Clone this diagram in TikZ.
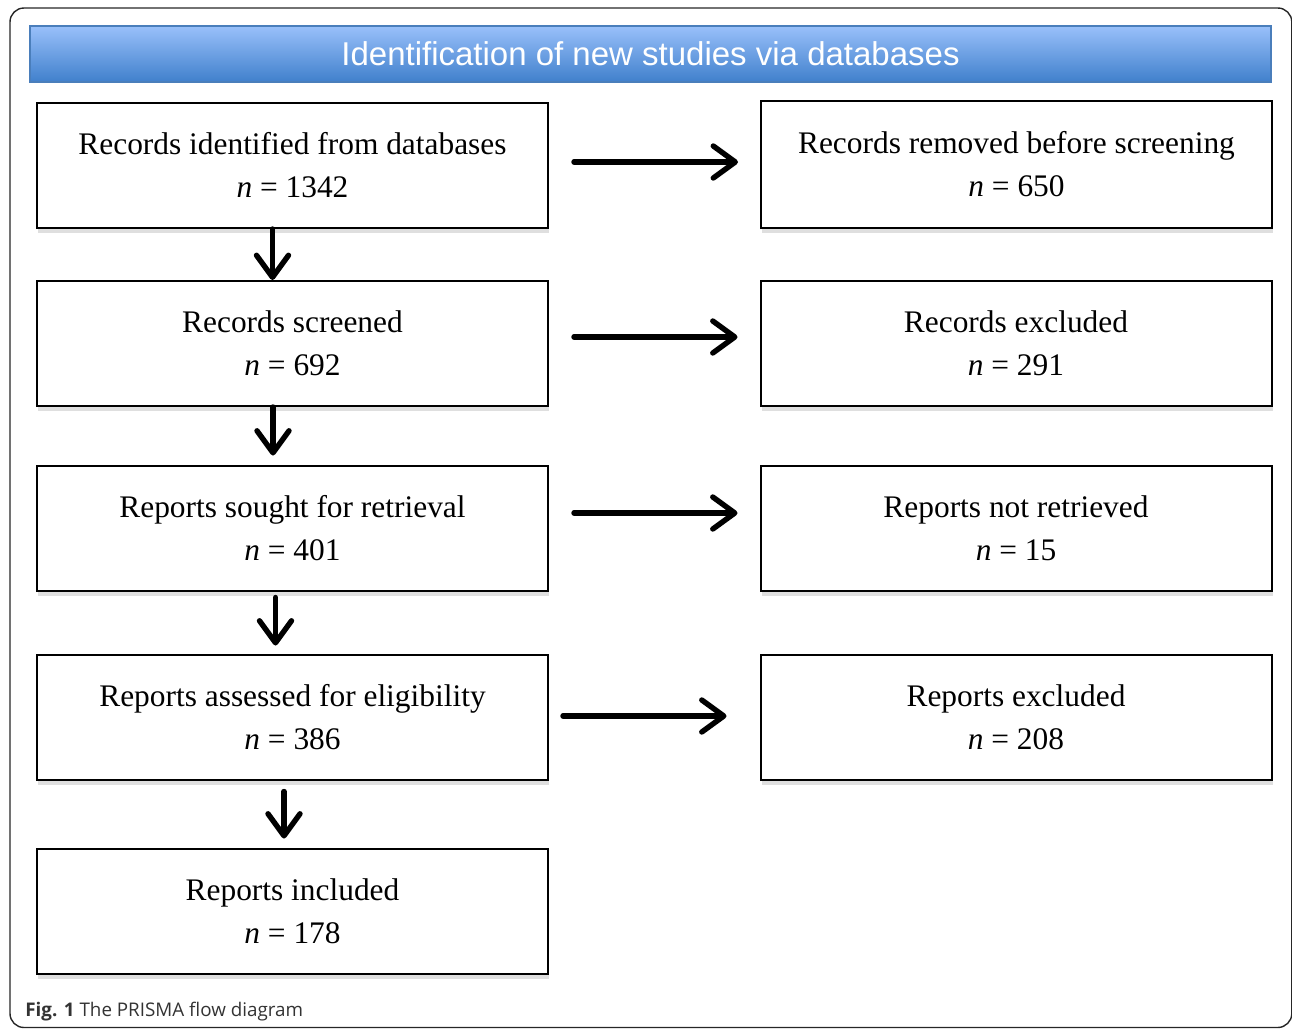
\documentclass[tikz,border=0pt]{standalone}
\usepackage{fontspec}
\setmainfont{Liberation Serif}
\newfontfamily\titlefont{Liberation Sans}
\newfontfamily\capfont{Open Sans}
\usepackage{tikz}
\usetikzlibrary{positioning,arrows.meta,shadows}

\definecolor{bartop}{RGB}{153,192,250}
\definecolor{barbot}{RGB}{64,128,204}
\definecolor{baredge}{RGB}{74,126,187}

\tikzset{
  stagebox/.style={draw,line width=1pt,fill=white,minimum width=255.5pt,minimum height=62.5pt,
    align=center,font=\fontsize{15.7}{21.5}\selectfont,
    drop shadow={shadow xshift=0.5pt,shadow yshift=-2.5pt,opacity=0.25}},
  flowarr/.style={line width=2.7pt,line cap=round,-{Straight Barb[length=11pt,width=16pt,line cap=round,line join=round]}}
}

\begin{document}
\begin{tikzpicture}[x=0.5pt,y=-0.5pt]
		\useasboundingbox (0,0) rectangle (1292,1029);

		%frame and title
		\draw[line width=0.7pt,black!85,rounded corners=7pt] (10,8) rectangle (1291.8,1027.5);
		\node[draw=baredge,line width=0.6pt,top color=bartop,bottom color=barbot,minimum width=620.5pt,minimum height=28pt,
			text=white,font=\titlefont\fontsize{16.5}{18}\selectfont] (title) at (650.5,54) {Identification of new studies via databases};

		%left nodes
		\node[stagebox] (n1) at (292.5,165.5) {Records identified from databases\\{\itshape n} = 1342};
		\node[stagebox] (n2) at (292.5,343.5) {Records screened\\{\itshape n} = 692};
		\node[stagebox] (n3) at (292.5,528) {Reports sought for retrieval\\{\itshape n} = 401};
		\node[stagebox] (n4) at (292.5,717) {Reports assessed for eligibility\\{\itshape n} = 386};
		\node[stagebox] (n5) at (292.5,911) {Reports included\\{\itshape n} = 178};

		%right nodes
		\node[stagebox,minimum height=63.5pt] (m1) at (1016.5,164.5) {Records removed before screening\\{\itshape n} = 650};
		\node[stagebox] (m2) at (1016,343.5) {Records excluded\\{\itshape n} = 291};
		\node[stagebox] (m3) at (1016,528) {Reports not retrieved\\{\itshape n} = 15};
		\node[stagebox] (m4) at (1016,717) {Reports excluded\\{\itshape n} = 208};

		%edges
		\draw[flowarr] ([xshift=-10pt]n1.south) -- ([xshift=-10pt]n2.north);
		\draw[flowarr,shorten >=4.5pt] ([xshift=-9.75pt]n2.south) -- ([xshift=-9.75pt]n3.north);
		\draw[flowarr,shorten <=3pt,shorten >=4pt] ([xshift=-8.5pt]n3.south) -- ([xshift=-8.5pt]n4.north);
		\draw[flowarr,shorten <=5.5pt,shorten >=4.5pt] ([xshift=-4.25pt]n4.south) -- ([xshift=-4.25pt]n5.north);

		\draw[flowarr,shorten <=12.5pt,shorten >=11pt] ([yshift=1.75pt]n1.east) -- ([yshift=1.75pt]n1.east -| m1.west);
		\draw[flowarr,shorten <=12.5pt,shorten >=11pt] ([yshift=3.25pt]n2.east) -- ([yshift=3.25pt]n2.east -| m2.west);
		\draw[flowarr,shorten <=12.5pt,shorten >=11pt] ([yshift=7.5pt]n3.east) -- ([yshift=7.5pt]n3.east -| m3.west);
		\draw[flowarr,shorten <=7pt,shorten >=16.5pt] ([yshift=0.5pt]n4.east) -- ([yshift=0.5pt]n4.east -| m4.west);

		%caption
		\node[anchor=base west,inner sep=0pt,text=black!80,font=\capfont\fontsize{9.4}{12}\selectfont] (cap) at (25,1016)
			{\textbf{Fig. 1} The PRISMA flow diagram};

\end{tikzpicture}
\end{document}
